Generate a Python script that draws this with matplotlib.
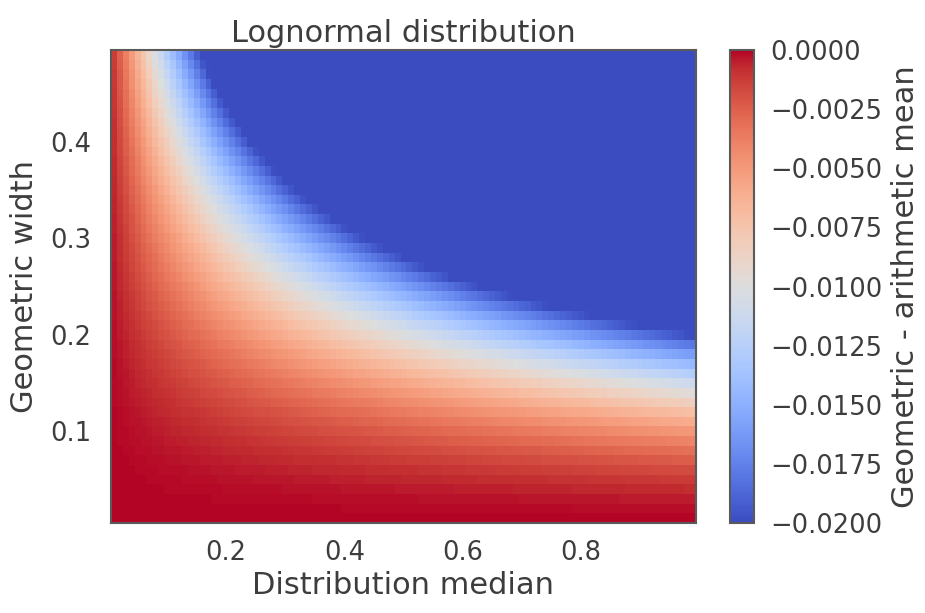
import numpy as np
import matplotlib
matplotlib.use('Agg')
import matplotlib.pyplot as plt
import seaborn as sns

# grid of the heatmap (cell centres)
medians = np.round(np.arange(0.01, 1.0, 0.01), 2)   # distribution median
widths = np.round(np.arange(0.01, 0.50, 0.01), 2)   # geometric width (sigma)

# geometric mean of lognormal = median, arithmetic mean = median * exp(sigma^2 / 2)
M, S = np.meshgrid(medians, widths)
geo_mean = M
arith_mean = M * np.exp(S ** 2 / 2)
diff = geo_mean - arith_mean

cbar_ticks = [0.0, -0.0025, -0.005, -0.0075, -0.01, -0.0125, -0.015, -0.0175, -0.02]

sns.set_style('white')
txt = '#3d3d3d'
plt.rcParams['text.color'] = txt
plt.rcParams['axes.labelcolor'] = txt
plt.rcParams['xtick.color'] = txt
plt.rcParams['ytick.color'] = txt

fig = plt.figure(figsize=(9.25, 6.13), dpi=100)
ax = fig.add_axes([0.12, 0.1468, 0.6324, 0.7716])
cax = fig.add_axes([0.789, 0.1468, 0.026, 0.7716])

mesh = ax.pcolormesh(medians, widths, diff, cmap='coolwarm', vmin=-0.02, vmax=0.0,
                     shading='nearest')
ax.set_xticks([0.2, 0.4, 0.6, 0.8])
ax.set_yticks([0.1, 0.2, 0.3, 0.4])
ax.tick_params(axis='x', labelsize=18.5, length=0, pad=12)
ax.tick_params(axis='y', labelsize=18.5, length=0, pad=14)
ax.set_xlabel('Distribution median', fontsize=22, labelpad=4)
ax.set_ylabel('Geometric width', fontsize=22, labelpad=8)
ax.set_title('Lognormal distribution', fontsize=22, pad=6)
for sp in ax.spines.values():
    sp.set_color('#5a5a5a')
    sp.set_linewidth(1.5)

cb = fig.colorbar(mesh, cax=cax, ticks=cbar_ticks)
cb.ax.set_yticklabels(['%.4f' % t if t == 0 else '\u2212%.4f' % abs(t) for t in cbar_ticks])
cb.ax.tick_params(labelsize=18.5, length=0, pad=12)
cb.set_label('Geometric - arithmetic mean', fontsize=22, labelpad=6)
cb.outline.set_edgecolor('#5a5a5a')
cb.outline.set_linewidth(1.5)

plt.savefig('out.png', dpi=100)
